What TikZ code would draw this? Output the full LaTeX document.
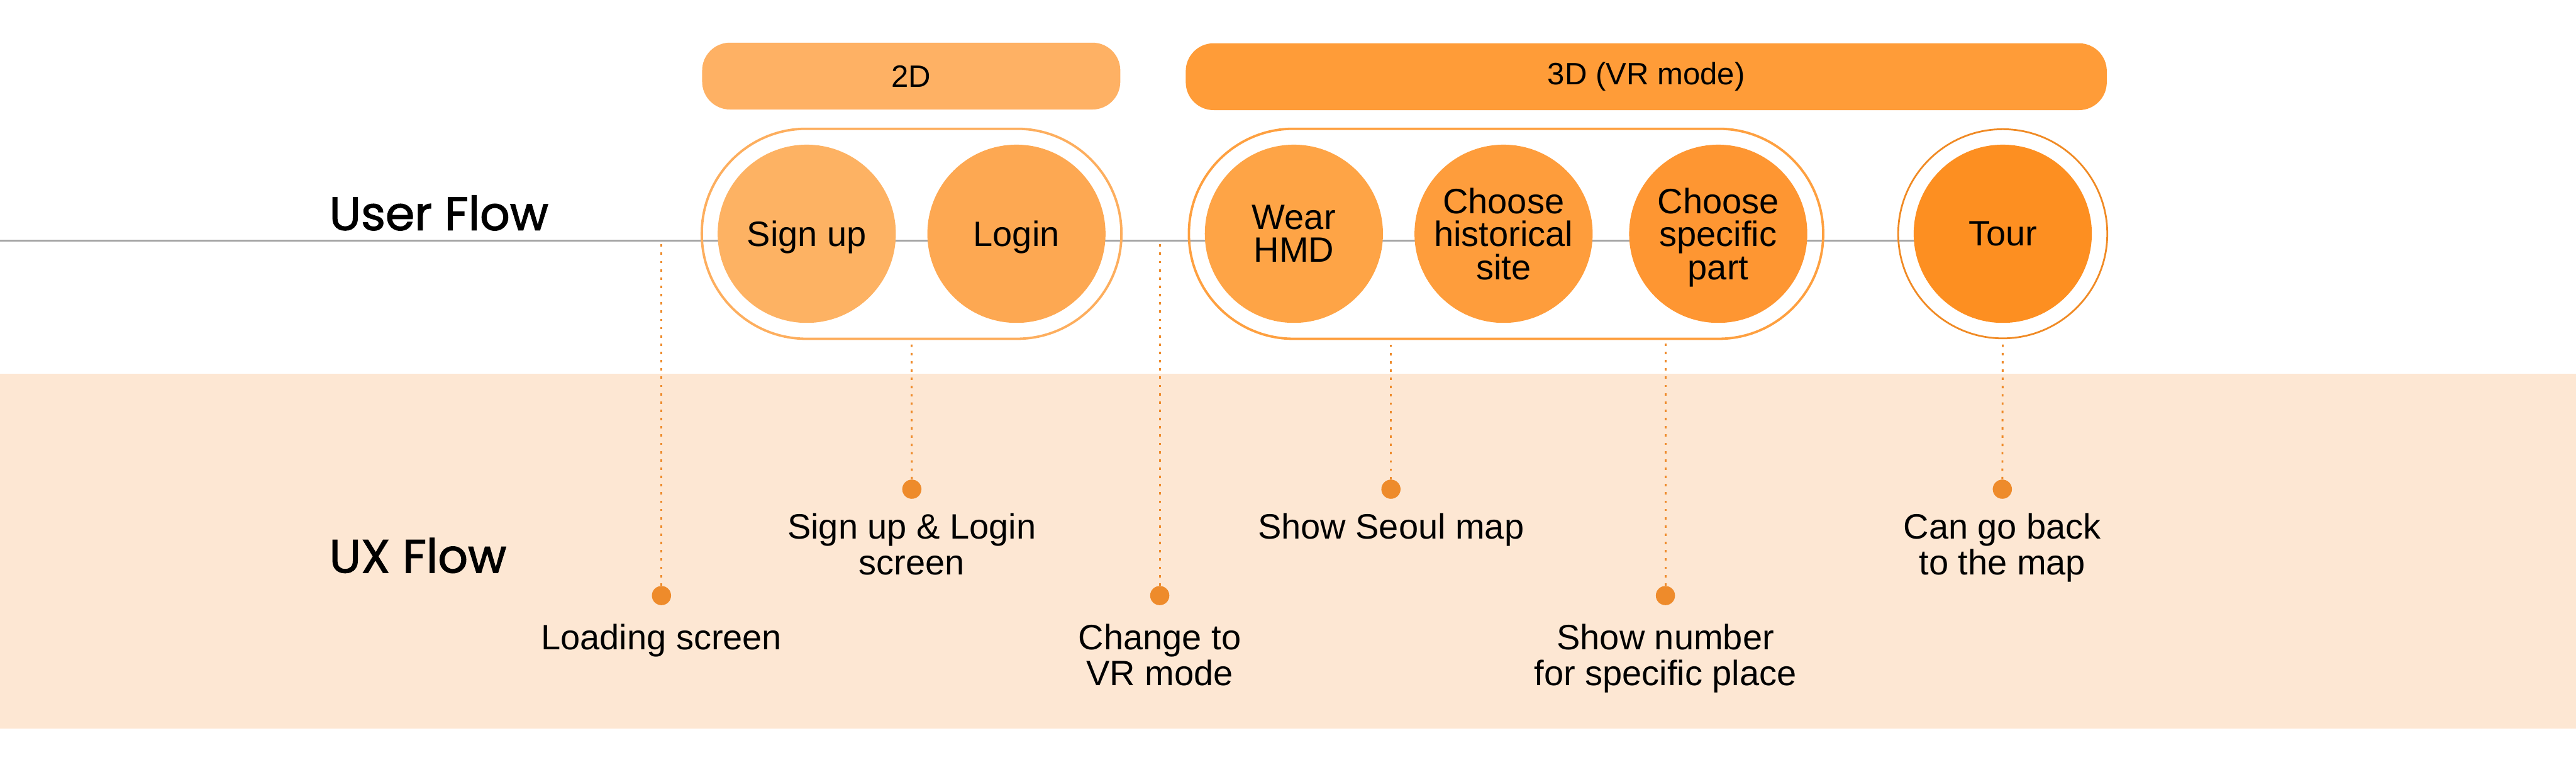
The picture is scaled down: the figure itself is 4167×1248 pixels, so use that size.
\documentclass[tikz,border=0pt]{standalone}
\usepackage{fontspec}
\setmainfont{Liberation Sans}
\newfontfamily\headfont[FakeBold=1.6]{Poppins}
\usetikzlibrary{positioning,fit}

\definecolor{bandbg}{HTML}{FDE7D3}
\definecolor{linegray}{HTML}{A6A6A6}
\definecolor{pinc}{HTML}{EE8B2B}
\definecolor{bar2dc}{HTML}{FEB164}
\definecolor{bar3dc}{HTML}{FF9C38}
\definecolor{ring2d}{HTML}{FDAE5E}
\definecolor{ring3d}{HTML}{FEA040}
\definecolor{ringtour}{HTML}{F08A24}
\definecolor{c1}{HTML}{FDB263}
\definecolor{c2}{HTML}{FDA852}
\definecolor{c3}{HTML}{FEA446}
\definecolor{c4}{HTML}{FE9D3C}
\definecolor{c5}{HTML}{FE9632}
\definecolor{c6}{HTML}{FD8F21}

\begin{document}
\begin{tikzpicture} [
    x=0.01cm, y=-0.01cm,
    node distance=3.39cm,
  ]

  \tikzstyle{act} = [
    circle,
    minimum size=2.88cm,
    inner sep=0pt,
    align=center,
    text depth=0pt,
    font=\fontsize{16.2}{15.1}\selectfont,
  ]
  \tikzstyle{grp} = [
    rounded corners=1.69cm,
    inner sep=0.25cm,
    line width=1.1pt,
  ]
  \tikzstyle{phasebar} = [
    rounded corners=0.45cm,
    minimum height=1.08cm,
    inner sep=0pt,
    font=\fontsize{14.2}{14.2}\selectfont,
  ]
  \tikzstyle{spot} = [
    circle,
    fill=pinc,
    minimum size=0.31cm,
    inner sep=0pt,
  ]
  \tikzstyle{lead} = [
    draw=pinc,
    line width=0.85pt,
    dash pattern=on 1.1pt off 2.7pt,
  ]
  \tikzstyle{note} = [
    align=center,
    inner sep=0pt,
    font=\fontsize{16.2}{16.4}\selectfont,
  ]
  \tikzstyle{title} = [
    anchor=base west,
    inner sep=0pt,
    font=\headfont\fontsize{21.6}{21.6}\selectfont,
  ]

  \useasboundingbox (0,0) rectangle (4167,1248);

  % UX band and user flow line
  \fill[bandbg] (0,604) rectangle (4167,1178);
  \coordinate (flowstart) at (0,389);
  \coordinate (flowend)   at (3239,389);
  \draw[linegray, line width=0.85pt] (flowstart) -- (flowend);

  \node[title] (userflow) at (532,372) {User Flow};
  \node[title] (uxflow)   at (532,926) {UX Flow};

  % steps
  \node[act, fill=c1]                                   (signup) at (1305,378) {Sign up};
  \node[act, fill=c2, right of=signup]                  (login)  {Login};
  \node[act, fill=c3]                                   (wear)   at (2093,378) {Wear\\HMD};
  \node[act, fill=c4, right of=wear]                    (site)   {Choose\\historical\\site};
  \node[act, fill=c5, right of=site, xshift=0.08cm]     (part)   {Choose\\specific\\part};
  \node[act, fill=c6, right of=part, xshift=1.21cm]     (tour)   {Tour};

  \node[grp, draw=ring2d, fit=(signup)(login)]          (grp2d) {};
  \node[grp, draw=ring3d, fit=(wear)(site)(part)]       (grp3d) {};
  \node[circle, draw=ringtour, line width=0.8pt, minimum size=3.38cm, inner sep=0pt] (tourring) at (tour) {};

  \node[phasebar, fill=bar2dc, minimum width=6.76cm] (bar2d) at (1474,123) {2D};
  \node[phasebar, fill=bar3dc, minimum width=14.89cm] (bar3d) at (2663,124) {3D (VR mode)};

  % ux flow
  \node[spot] (dload) at (1070,963) {};
  \node[spot] (dsign) at (1475,791) {};
  \node[spot] (dvr)   at (1876,963) {};
  \node[spot] (dmap)  at (2250,791) {};
  \node[spot] (dnum)  at (2694,963) {};
  \node[spot] (dback) at (3239,791) {};

  \draw[lead] (dload) -- (dload |- flowstart);
  \draw[lead] (dsign) -- (grp2d.south);
  \draw[lead] (dvr)   -- (dvr |- flowstart);
  \draw[lead] (dmap)  -- (dmap |- grp3d.south);
  \draw[lead] (dnum)  -- (dnum |- grp3d.south);
  \draw[lead] (dback) -- (tourring.south);

  \node[note, below=0.29cm of dload] (nload) {Loading screen};
  \node[note, below=0.22cm of dsign] (nsign) {Sign up \& Login\\screen};
  \node[note, below=0.29cm of dvr]   (nvr)   {Change to\\VR mode};
  \node[note, below=0.22cm of dmap]  (nmap)  {Show Seoul map};
  \node[note, below=0.29cm of dnum]  (nnum)  {Show number\\for specific place};
  \node[note, below=0.22cm of dback] (nback) {Can go back\\to the map};

\end{tikzpicture}
\end{document}
